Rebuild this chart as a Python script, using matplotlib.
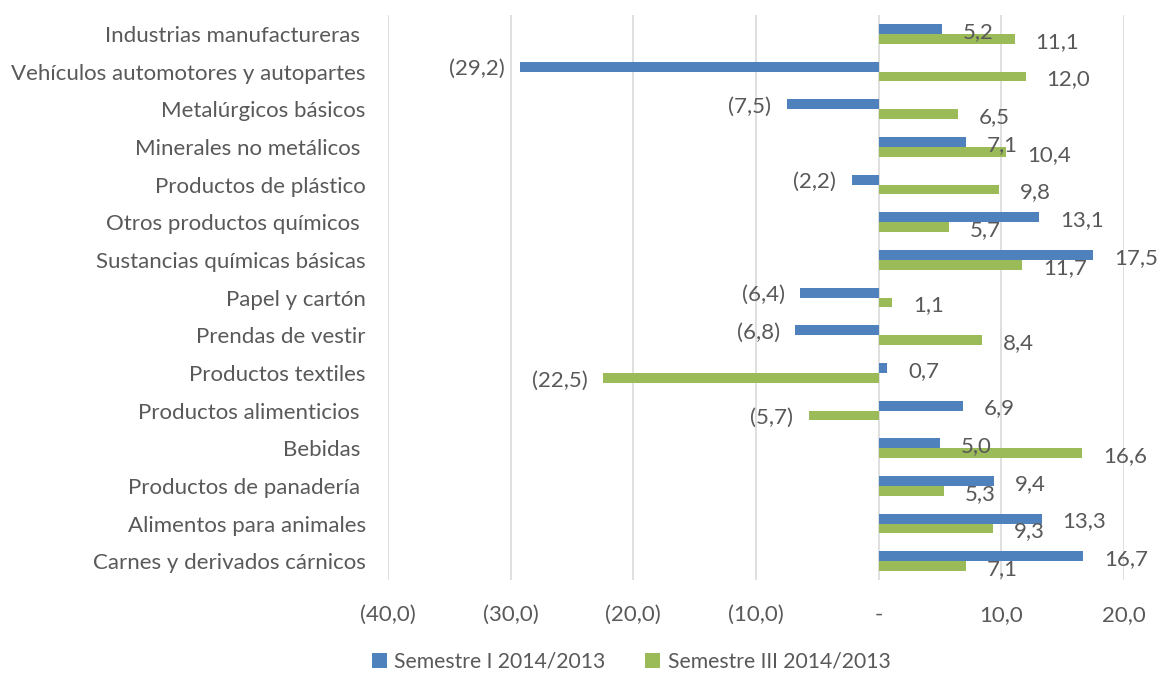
import numpy as np
import matplotlib
matplotlib.use("Agg")
from matplotlib import pyplot as plt

categorias = [
    "Industrias manufactureras ",
    "Vehículos automotores y autopartes",
    "Metalúrgicos básicos",
    "Minerales no metálicos ",
    "Productos de plástico",
    "Otros productos químicos ",
    "Sustancias químicas básicas",
    "Papel y cartón",
    "Prendas de vestir",
    "Productos textiles",
    "Productos alimenticios ",
    "Bebidas ",
    "Productos de panadería ",
    "Alimentos para animales",
    "Carnes y derivados cárnicos",
]
sem_1 = [5.2, -29.2, -7.5, 7.1, -2.2, 13.1, 17.5, -6.4, -6.8, 0.7, 6.9, 5.0, 9.4, 13.3, 16.7]
sem_3 = [11.1, 12.0, 6.5, 10.4, 9.8, 5.7, 11.7, 1.1, 8.4, -22.5, -5.7, 16.6, 5.3, 9.3, 7.1]
x_ticks = [-40, -30, -20, -10, 0, 10, 20]
x_labels = ["(40,0)", "(30,0)", "(20,0)", "(10,0)", "-", "10,0", "20,0"]

azul = "#4F81BD"
verde = "#9BBB59"
gris = "#595959"

plt.rcParams['font.family'] = ['Lato', 'DejaVu Sans']
plt.rcParams['font.size'] = 16

fig = plt.figure(figsize=(11.58, 6.79), dpi=100)
ax = fig.add_axes([0.335, 0.1458, 0.6356, 0.8321])

n = len(categorias)
y = np.arange(n)[::-1]
h = 0.265

b1 = ax.barh(y + h / 2, sem_1, height=h, color=azul, label="Semestre I 2014/2013", zorder=3)
b2 = ax.barh(y - h / 2, sem_3, height=h, color=verde, label="Semestre III 2014/2013", zorder=3)


def fmt(v):
    s = f"{abs(v):.1f}".replace(".", ",")
    return f"({s})" if v < 0 else s


for bars, vals in [(b1, sem_1), (b2, sem_3)]:
    for bar, v in zip(bars, vals):
        yc = bar.get_y() + bar.get_height() / 2
        if v >= 0:
            ax.annotate(fmt(v), (v, yc), xytext=(15, -2), textcoords="offset points",
                        ha="left", va="center", color=gris, zorder=4)
        else:
            ax.annotate(fmt(v), (v, yc), xytext=(-11, -2), textcoords="offset points",
                        ha="right", va="center", color=gris, zorder=4)

ax.set_xlim(-40, 20)
ax.set_ylim(-0.5, n - 0.5)
ax.set_xticks(x_ticks)
ax.set_xticklabels(x_labels)
ax.set_yticks(y)
ax.set_yticklabels(categorias)
ax.tick_params(axis="both", length=0, colors=gris)
ax.tick_params(axis="x", pad=18)
ax.tick_params(axis="y", pad=16)
ax.grid(axis="x", color="#D9D9D9", linewidth=1.2, zorder=0)
for s in ax.spines.values():
    s.set_visible(False)

fig.legend(loc="center", bbox_to_anchor=(0.545, 1 - 662 / 679), ncol=2, frameon=False,
           fontsize=15.2, handlelength=0.7, handleheight=0.7, handletextpad=0.35,
           columnspacing=1.9, labelcolor=gris)

fig.savefig("out.png", dpi=100)
